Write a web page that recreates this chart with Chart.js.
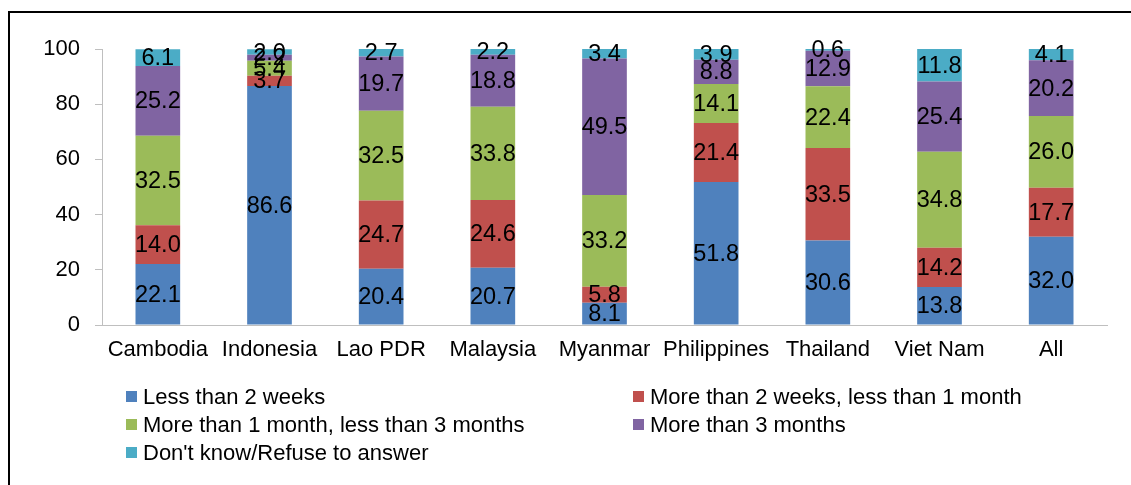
<!DOCTYPE html>
<html>
<head>
<meta charset="utf-8">
<script src="https://cdn.jsdelivr.net/npm/chart.js@4"></script>
<style>
  body { margin: 0; background: #fff; font-family: "Liberation Sans", Arial, sans-serif; }
  #wrap { position: relative; width: 1131px; height: 485px; overflow: hidden; }
  #frame { position: absolute; left: 8px; top: 11px; width: 1140px; height: 500px; border: 2px solid #000; box-sizing: border-box; }
  canvas { position: absolute; left: 0; top: 0; }
  .legend { position: absolute; font-size: 22px; color: #000; line-height: 28px; }
  .legend div { white-space: nowrap; }
  .legend span { display: inline-block; width: 11px; height: 11px; margin-right: 6px; vertical-align: 2px; }
</style>
</head>
<body>
<div id="wrap">
  <div id="frame"></div>
  <canvas id="c" width="1131" height="485"></canvas>
  <div class="legend" id="leg1" style="left:126px; top:383px;"></div>
  <div class="legend" id="leg2" style="left:633px; top:383px;"></div>
</div>
<script>
const countries = ['Cambodia', 'Indonesia', 'Lao PDR', 'Malaysia', 'Myanmar', 'Philippines', 'Thailand', 'Viet Nam', 'All'];
const seriesNames = ['Less than 2 weeks', 'More than 2 weeks, less than 1 month', 'More than 1 month, less than 3 months', 'More than 3 months', "Don't know/Refuse to answer"];
const colors = ['#4f81bd', '#c0504d', '#9bbb59', '#8064a2', '#4bacc6'];

const lessThan2Weeks = [22.1, 86.6, 20.4, 20.7, 8.1, 51.8, 30.6, 13.8, 32.0];
const weeksToMonth = [14.0, 3.7, 24.7, 24.6, 5.8, 21.4, 33.5, 14.2, 17.7];
const monthTo3Months = [32.5, 5.4, 32.5, 33.8, 33.2, 14.1, 22.4, 34.8, 26.0];
const over3Months = [25.2, 2.2, 19.7, 18.8, 49.5, 8.8, 12.9, 25.4, 20.2];
const dontKnow = [6.1, 2.0, 2.7, 2.2, 3.4, 3.9, 0.6, 11.8, 4.1];
const yTicks = [0, 20, 40, 60, 80, 100];

const seriesValues = [lessThan2Weeks, weeksToMonth, monthTo3Months, over3Months, dontKnow];
const fontFamily = '"Liberation Sans", Arial, sans-serif';

const segmentLabels = {
  id: 'segmentLabels',
  afterDatasetsDraw(chart) {
    const ctx = chart.ctx;
    ctx.save();
    ctx.font = '23.5px ' + fontFamily;
    ctx.fillStyle = '#000';
    ctx.textAlign = 'center';
    ctx.textBaseline = 'middle';
    chart.data.datasets.forEach((ds, i) => {
      chart.getDatasetMeta(i).data.forEach((bar, j) => {
        const { x, y, base } = bar.getProps(['x', 'y', 'base'], true);
        ctx.fillText(ds.data[j].toFixed(1), x, (y + base) / 2 + 1);
      });
    });
    ctx.restore();
  }
};

new Chart(document.getElementById('c'), {
  type: 'bar',
  data: {
    labels: countries,
    datasets: seriesValues.map((vals, i) => ({
      label: seriesNames[i],
      data: vals,
      backgroundColor: colors[i],
      borderWidth: 0,
      barPercentage: 0.4,
      categoryPercentage: 1.0,
    })),
  },
  options: {
    responsive: false,
    animation: false,
    layout: { padding: { left: 0, right: 24, top: 49, bottom: 120 } },
    plugins: {
      legend: { display: false },
      tooltip: { enabled: false },
    },
    scales: {
      x: {
        stacked: true,
        grid: { drawOnChartArea: false, drawTicks: false },
        border: { color: '#bfbfbf', width: 1 },
        ticks: {
          color: '#000', padding: 12, maxRotation: 0, minRotation: 0, autoSkip: false,
          font: { size: 22, family: fontFamily },
        },
        afterFit: s => { s.height = 40; },
      },
      y: {
        stacked: true,
        min: 0,
        max: 100,
        afterBuildTicks: s => { s.ticks = yTicks.map(v => ({ value: v })); },
        grid: { drawOnChartArea: false, drawTicks: true, tickLength: 7, color: '#bfbfbf' },
        border: { color: '#bfbfbf', width: 1 },
        ticks: { color: '#000', padding: 15, font: { size: 22, family: fontFamily } },
        afterFit: s => { s.width = 102; },
      },
    },
  },
  plugins: [segmentLabels],
});

const col1 = [0, 2, 4], col2 = [1, 3];
const legendRow = i => `<div><span style="background:${colors[i]}"></span>${seriesNames[i]}</div>`;
document.getElementById('leg1').innerHTML = col1.map(legendRow).join('');
document.getElementById('leg2').innerHTML = col2.map(legendRow).join('');
</script>
</body>
</html>
